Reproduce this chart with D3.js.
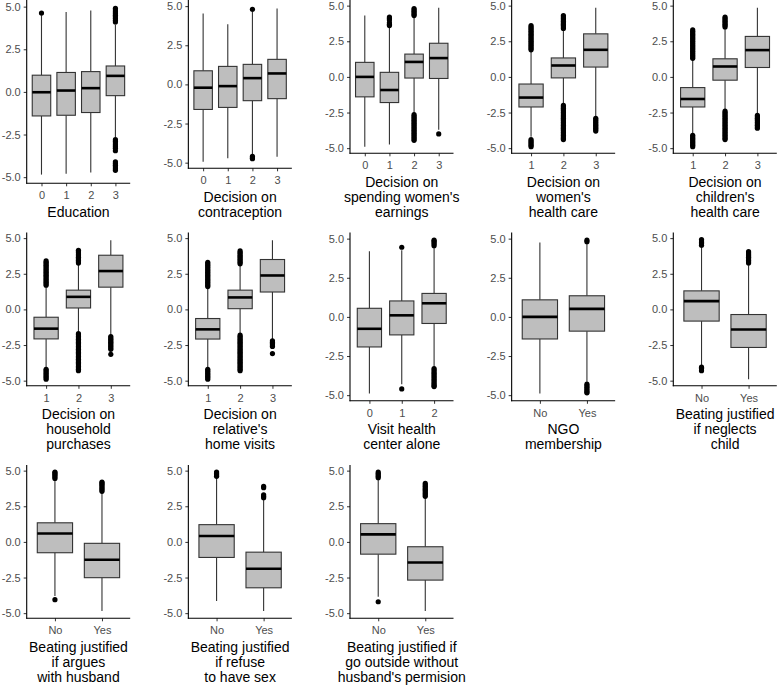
<!DOCTYPE html>
<html>
<head>
<meta charset="utf-8">
<script src="https://cdn.jsdelivr.net/npm/d3@7"></script>
<style>
  html, body { margin: 0; padding: 0; background: #ffffff; }
  svg { display: block; font-family: "Liberation Sans", Arial, sans-serif; }
</style>
</head>
<body>
<svg id="chart" width="778" height="686"></svg>
<script>
// ---------- DATA ----------
const panelTitles = [
  ["Education"],
  ["Decision on", "contraception"],
  ["Decision on", "spending women's", "earnings"],
  ["Decision on", "women's", "health care"],
  ["Decision on", "children's", "health care"],
  ["Decision on", "household", "purchases"],
  ["Decision on", "relative's", "home visits"],
  ["Visit health", "center alone"],
  ["NGO", "membership"],
  ["Beating justified", "if neglects", "child"],
  ["Beating justified", "if argues", "with husband"],
  ["Beating justified", "if refuse", "to have sex"],
  ["Beating justified if", "go outside without", "husband's permision"]
];

const panelCategories = [
  ["0", "1", "2", "3"],
  ["0", "1", "2", "3"],
  ["0", "1", "2", "3"],
  ["1", "2", "3"],
  ["1", "2", "3"],
  ["1", "2", "3"],
  ["1", "2", "3"],
  ["0", "1", "2"],
  ["No", "Yes"],
  ["No", "Yes"],
  ["No", "Yes"],
  ["No", "Yes"],
  ["No", "Yes"]
];

const yTicks = [-5.0, -2.5, 0.0, 2.5, 5.0];
const yTickLabels = ["-5.0", "-2.5", "0.0", "2.5", "5.0"];

const q1Values = [
  [-1.41, -1.37, -1.21, -0.22],
  [-1.60, -1.47, -1.04, -0.91],
  [-1.40, -1.80, -0.08, -0.11],
  [-2.11, -0.07, 0.69],
  [-2.11, -0.23, 0.66],
  [-2.07, 0.10, 1.56],
  [-2.08, 0.05, 1.22],
  [-1.92, -1.15, -0.42],
  [-1.41, -0.91],
  [-0.82, -2.67],
  [-0.76, -2.51],
  [-1.09, -3.22],
  [-0.86, -2.68]
];

const medianValues = [
  [-0.02, 0.08, 0.22, 0.94],
  [-0.21, -0.11, 0.40, 0.70],
  [0.00, -0.92, 1.05, 1.32],
  [-1.45, 0.80, 1.90],
  [-1.55, 0.73, 1.88],
  [-1.35, 0.88, 2.69],
  [-1.40, 0.84, 2.38],
  [-0.76, 0.10, 0.87],
  [0.00, 0.51],
  [0.58, -1.41],
  [0.59, -1.25],
  [0.41, -1.88],
  [0.53, -1.44]
];

const q3Values = [
  [0.98, 1.14, 1.19, 1.52],
  [0.87, 1.15, 1.28, 1.60],
  [1.02, 0.32, 1.60, 2.36],
  [-0.50, 1.33, 3.02],
  [-0.75, 1.27, 2.84],
  [-0.55, 1.35, 3.80],
  [-0.64, 1.35, 3.50],
  [0.55, 1.02, 1.50],
  [1.09, 1.35],
  [1.30, -0.36],
  [1.34, -0.10],
  [1.21, -0.72],
  [1.28, -0.34]
];

const whiskerLow = [
  [-4.85, -4.80, -4.72, -2.65],
  [-4.94, -4.72, -4.50, -4.62],
  [-4.90, -4.75, -2.55, -3.70],
  [-4.20, -1.90, -2.75],
  [-4.00, -2.25, -2.55],
  [-4.10, -1.60, -1.80],
  [-4.10, -1.70, -2.10],
  [-4.90, -4.30, -3.20],
  [-4.90, -4.15],
  [-3.90, -4.90],
  [-3.80, -4.85],
  [-4.15, -4.85],
  [-3.85, -4.85]
];

const whiskerHigh = [
  [4.50, 4.68, 4.78, 3.95],
  [4.53, 3.85, 4.70, 4.85],
  [4.30, 3.45, 4.20, 4.85],
  [1.80, 3.30, 4.85],
  [1.20, 3.40, 4.85],
  [1.60, 3.15, 4.85],
  [1.50, 3.10, 4.85],
  [4.20, 4.25, 4.45],
  [4.75, 4.70],
  [4.40, 3.10],
  [4.35, 3.45],
  [4.50, 3.00],
  [4.40, 3.10]
];

const outlierValues = [
  [
    [4.62],
    [],
    [],
    [4.1, 4.2, 4.3, 4.4, 4.5, 4.6, 4.7, 4.8, 4.9,
     -2.8, -2.9, -3.0, -3.1, -3.2, -3.3, -3.45,
     -4.1, -4.2, -4.3, -4.4, -4.5, -4.6]
  ],
  [
    [], [],
    [4.8, -4.6, -4.7, -4.75],
    []
  ],
  [
    [],
    [3.6, 3.7, 3.8, 4.0, 4.1, 4.2],
    [4.3, 4.4, 4.5, 4.6, 4.7, 4.8,
     -2.65, -2.75, -2.85, -2.95, -3.05, -3.15, -3.25, -3.35, -3.45, -3.55, -3.65, -3.75, -3.85, -3.95, -4.05, -4.15, -4.25, -4.35, -4.45],
    [-4.0]
  ],
  [
    [1.9, 2.0, 2.1, 2.2, 2.3, 2.4, 2.5, 2.6, 2.7, 2.8, 2.9, 3.0, 3.1, 3.2, 3.3, 3.4, 3.5, 3.6,
     -4.4, -4.5, -4.6, -4.7, -4.8, -4.9],
    [3.4, 3.5, 3.6, 3.7, 3.8, 3.9, 4.0, 4.1, 4.2, 4.3,
     -2.0, -2.1, -2.2, -2.3, -2.4, -2.5, -2.6, -2.7, -2.8, -2.9, -3.0, -3.1, -3.2, -3.3, -3.4, -3.5, -3.6, -3.7, -3.8, -3.9, -4.0, -4.1, -4.2, -4.3, -4.4],
    [-2.9, -3.0, -3.1, -3.2, -3.3, -3.4, -3.5, -3.6, -3.7, -3.8]
  ],
  [
    [1.3, 1.4, 1.5, 1.6, 1.7, 1.8, 1.9, 2.0, 2.1, 2.2, 2.3, 2.4, 2.5, 2.6, 2.7, 2.8, 2.9, 3.0, 3.1, 3.2, 3.3,
     -4.1, -4.2, -4.3, -4.4, -4.5, -4.6, -4.7, -4.8, -4.9],
    [3.5, 3.6, 3.7, 3.8, 3.9, 4.0, 4.1, 4.2,
     -2.4, -2.5, -2.6, -2.7, -2.8, -2.9, -3.0, -3.1, -3.2, -3.3, -3.4, -3.5, -3.6, -3.7, -3.8, -3.9, -4.0, -4.1, -4.2, -4.3, -4.4],
    [-2.7, -2.8, -2.9, -3.0, -3.1, -3.2, -3.3, -3.4, -3.5, -3.6]
  ],
  [
    [1.7, 1.8, 1.9, 2.0, 2.1, 2.2, 2.3, 2.4, 2.5, 2.6, 2.7, 2.8, 2.9, 3.0, 3.1, 3.2, 3.3, 3.4,
     -4.2, -4.3, -4.4, -4.5, -4.6, -4.7, -4.8, -4.9],
    [3.25, 3.35, 3.45, 3.55, 3.65, 3.75, 3.85, 3.95, 4.05, 4.15,
     -1.7, -1.8, -1.9, -2.0, -2.1, -2.2, -2.3, -2.4, -2.5, -2.6, -2.7, -2.8, -2.9, -3.0, -3.1, -3.2, -3.3, -3.4, -3.5, -3.6, -3.7, -3.8, -3.9, -4.0, -4.1, -4.2, -4.3],
    [-1.9, -2.0, -2.1, -2.2, -2.3, -2.4, -2.5, -2.6, -2.7, -2.8, -3.15]
  ],
  [
    [1.6, 1.7, 1.8, 1.9, 2.0, 2.1, 2.2, 2.3, 2.4, 2.5, 2.6, 2.7, 2.8, 2.9, 3.0, 3.1, 3.2, 3.3,
     -4.2, -4.3, -4.4, -4.5, -4.6, -4.7, -4.8, -4.9],
    [3.2, 3.3, 3.4, 3.5, 3.6, 3.7, 3.8, 3.9, 4.0, 4.1,
     -1.8, -1.9, -2.0, -2.1, -2.2, -2.3, -2.4, -2.5, -2.6, -2.7, -2.8, -2.9, -3.0, -3.1, -3.2, -3.3, -3.4, -3.5, -3.6, -3.7, -3.8, -3.9, -4.0, -4.1, -4.2, -4.3],
    [-2.2, -2.3, -2.4, -2.5, -2.6, -3.1]
  ],
  [
    [],
    [4.45, -4.6],
    [4.55, 4.65, 4.75, 4.85, 4.9,
     -3.3, -3.4, -3.5, -3.6, -3.7, -3.8, -3.9, -4.0, -4.1, -4.2, -4.3, -4.4, -4.45]
  ],
  [
    [],
    [4.8, 4.9, -4.3, -4.4, -4.5, -4.6, -4.7, -4.8, -4.85]
  ],
  [
    [4.5, 4.6, 4.7, 4.8, 4.9, -4.05, -4.15, -4.3],
    [3.25, 3.35, 3.45, 3.55, 3.65, 3.75, 3.85, 3.95, 4.05]
  ],
  [
    [4.45, 4.55, 4.65, 4.75, 4.85, 4.9, -4.05],
    [3.55, 3.65, 3.75, 3.85, 3.95, 4.05, 4.15, 4.2]
  ],
  [
    [4.6, 4.7, 4.8, 4.9],
    [3.1, 3.2, 3.3, 3.8, 3.9]
  ],
  [
    [4.5, 4.6, 4.7, 4.8, 4.9, -4.2],
    [3.2, 3.3, 3.4, 3.5, 3.6, 3.7, 3.8, 3.9, 4.0, 4.1]
  ]
];

// ---------- LAYOUT ----------
const svg = d3.select("#chart");
const nCols = 5;
const colPitch = 161.65;
const rowPitch = 232.5;
const axisLeft0 = 26.7;
const plotW = 103.5;
const lastTitleBaseline = 216.7;
const lineGap = 15;
const fontStack = "'Liberation Sans', Arial, sans-serif";

panelTitles.forEach((title, p) => {
  const col = p % nCols;
  const row = Math.floor(p / nCols);
  const x0 = axisLeft0 + colPitch * col;
  const rowTop = row * rowPitch;
  const L = title.length;
  const axisY = rowTop + lastTitleBaseline - lineGap * (L - 1) - 33.4;
  const topY = rowTop + 0.5;

  const cats = panelCategories[p];
  // ggplot discrete expansion: 0.6 units each side
  const unit = plotW / (cats.length - 1 + 1.2);
  const boxW = unit * 0.75;
  const x = d3.scalePoint().domain(cats)
    .range([x0 + unit * 0.6, x0 + unit * (0.6 + cats.length - 1)]);

  const y = d3.scaleLinear().domain([-5.36, 5.36]).range([axisY, topY]);

  const g = svg.append("g");

  // y axis
  const yAxis = d3.axisLeft(y).tickValues(yTicks)
    .tickFormat((d, i) => yTickLabels[i]).tickSize(3).tickPadding(3);
  const ya = g.append("g").attr("transform", `translate(${x0},0)`).call(yAxis);
  ya.attr("font-family", fontStack).attr("font-size", 11);
  ya.select(".domain").remove();
  ya.selectAll(".tick line").attr("stroke", "#333333").attr("stroke-width", 1);
  ya.selectAll(".tick text").attr("fill", "#4D4D4D");
  g.append("line").attr("x1", x0).attr("x2", x0)
    .attr("y1", topY - 0.5).attr("y2", axisY + 0.5)
    .attr("stroke", "#000").attr("stroke-width", 1.1);

  // x axis
  const xAxis = d3.axisBottom(x).tickSize(3).tickPadding(5);
  const xa = g.append("g").attr("transform", `translate(0,${axisY})`).call(xAxis);
  xa.attr("font-family", fontStack).attr("font-size", 11);
  xa.select(".domain").remove();
  xa.selectAll(".tick line").attr("stroke", "#333333").attr("stroke-width", 1);
  xa.selectAll(".tick text").attr("fill", "#4D4D4D");
  g.append("line").attr("x1", x0 - 0.5).attr("x2", x0 + plotW)
    .attr("y1", axisY).attr("y2", axisY)
    .attr("stroke", "#000").attr("stroke-width", 1.1);

  // boxes
  cats.forEach((c, i) => {
    const px = x(c);
    const bg = g.append("g");
    // whiskers
    bg.append("line").attr("x1", px).attr("x2", px)
      .attr("y1", y(q3Values[p][i])).attr("y2", y(whiskerHigh[p][i]))
      .attr("stroke", "#333333").attr("stroke-width", 1.1);
    bg.append("line").attr("x1", px).attr("x2", px)
      .attr("y1", y(q1Values[p][i])).attr("y2", y(whiskerLow[p][i]))
      .attr("stroke", "#333333").attr("stroke-width", 1.1);
    // outliers
    bg.selectAll("circle").data(outlierValues[p][i]).join("circle")
      .attr("cx", px).attr("cy", d => y(d)).attr("r", 2.6)
      .attr("fill", "#000");
    // box
    bg.append("rect")
      .attr("x", px - boxW / 2).attr("width", boxW)
      .attr("y", y(q3Values[p][i]))
      .attr("height", y(q1Values[p][i]) - y(q3Values[p][i]))
      .attr("fill", "#BEBEBE").attr("stroke", "#333333").attr("stroke-width", 1.1);
    // median
    bg.append("line")
      .attr("x1", px - boxW / 2).attr("x2", px + boxW / 2)
      .attr("y1", y(medianValues[p][i])).attr("y2", y(medianValues[p][i]))
      .attr("stroke", "#000").attr("stroke-width", 2.6);
  });

  // title
  const cxMid = x0 + plotW / 2;
  title.forEach((line, li) => {
    g.append("text")
      .attr("x", cxMid)
      .attr("y", axisY + 33.4 + lineGap * li)
      .attr("text-anchor", "middle")
      .attr("font-family", fontStack)
      .attr("font-size", 14)
      .attr("fill", "#000")
      .text(line);
  });
});
</script>
</body>
</html>
